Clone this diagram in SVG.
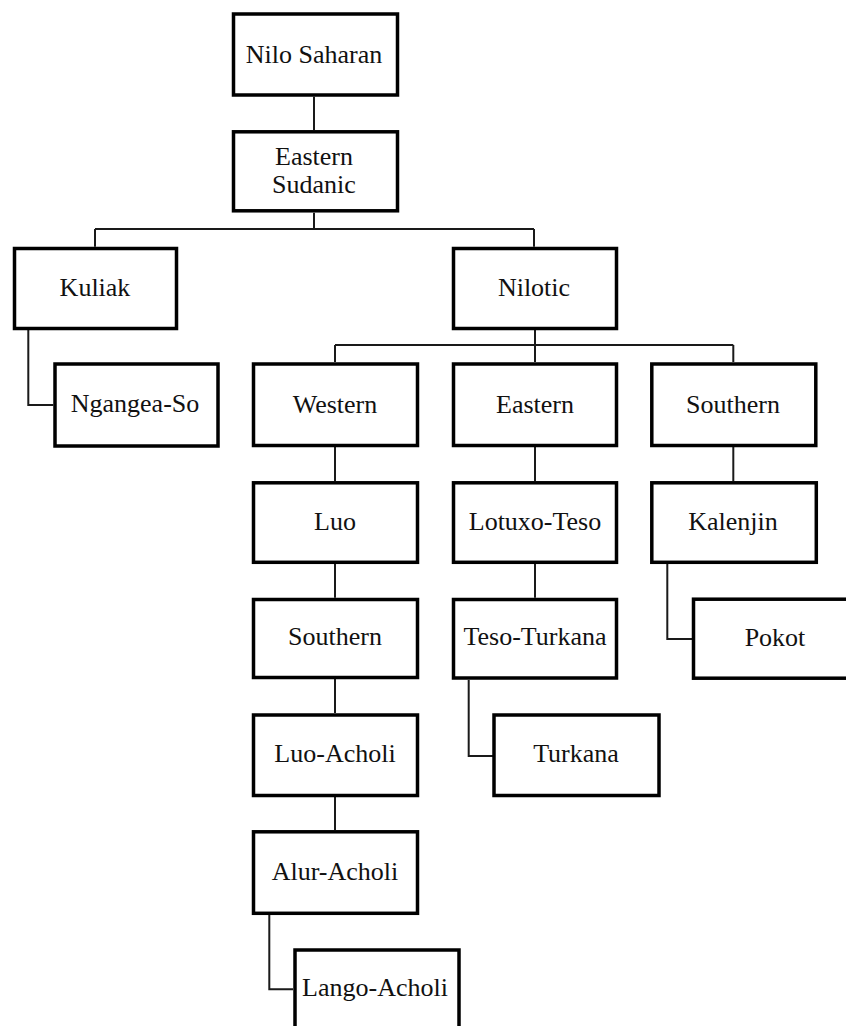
<svg xmlns="http://www.w3.org/2000/svg" width="846" height="1026" viewBox="0 0 846 1026">
<style>
.box{fill:#fff;stroke:#000;stroke-width:3.5}
.lbl{font-family:"Liberation Serif","Times New Roman",serif;font-size:26px;fill:#111;text-anchor:middle}
.conn{fill:none;stroke:#1a1a1a;stroke-width:2}
</style>
<rect width="846" height="1026" fill="#fff"/>
<g id="connectors">
<path class="conn" d="M314,96.7V130"/>
<path class="conn" d="M314,212.7V229M95,229H534M95,229V246.7M534,229V246.7"/>
<path class="conn" d="M28.3,330V405H53.3"/>
<path class="conn" d="M535,330V345M335,345H733.3M335,345V362M535,345V362M733.3,345V362"/>
<path class="conn" d="M335,447V481M335,564V597.7M335,679V713M335,797V830"/>
<path class="conn" d="M535,447V481M535,564V597.7"/>
<path class="conn" d="M733.3,447V481"/>
<path class="conn" d="M667.3,564V639H692"/>
<path class="conn" d="M468.7,680V756H493"/>
<path class="conn" d="M269.3,915V989.3H293"/>
</g>
<g id="nilo-saharan"><rect class="box" x="233.5" y="14" width="164" height="81"/><text class="lbl" x="314" y="62.5">Nilo Saharan</text></g>
<g id="eastern-sudanic"><rect class="box" x="233.5" y="131.8" width="164" height="79"/><text class="lbl" x="314" y="165">Eastern</text><text class="lbl" x="314" y="192.5">Sudanic</text></g>
<g id="kuliak"><rect class="box" x="14.5" y="248.5" width="162" height="80"/><text class="lbl" x="95" y="295.5">Kuliak</text></g>
<g id="nilotic"><rect class="box" x="453.5" y="248.5" width="163" height="80"/><text class="lbl" x="534" y="295.5">Nilotic</text></g>
<g id="ngangea-so"><rect class="box" x="55" y="364" width="163" height="82"/><text class="lbl" x="135" y="412">Ngangea-So</text></g>
<g id="western"><rect class="box" x="253.5" y="364" width="164" height="81.5"/><text class="lbl" x="335" y="413">Western</text></g>
<g id="eastern"><rect class="box" x="453.5" y="364" width="163" height="81.5"/><text class="lbl" x="535" y="413">Eastern</text></g>
<g id="southern-nilotic"><rect class="box" x="651.8" y="364" width="164" height="81.5"/><text class="lbl" x="733" y="413">Southern</text></g>
<g id="luo"><rect class="box" x="253.5" y="482.8" width="164" height="79.5"/><text class="lbl" x="335" y="530">Luo</text></g>
<g id="lotuxo-teso"><rect class="box" x="453.5" y="482.8" width="163" height="79.5"/><text class="lbl" x="535" y="530">Lotuxo-Teso</text></g>
<g id="kalenjin"><rect class="box" x="651.8" y="482.8" width="164.5" height="79.5"/><text class="lbl" x="733" y="530">Kalenjin</text></g>
<g id="southern-luo"><rect class="box" x="253.5" y="599.5" width="164" height="78"/><text class="lbl" x="335" y="645">Southern</text></g>
<g id="teso-turkana"><rect class="box" x="453.5" y="599.5" width="163" height="78.5"/><text class="lbl" x="535" y="645">Teso-Turkana</text></g>
<g id="pokot"><rect class="box" x="693.5" y="599.2" width="165" height="79"/><text class="lbl" x="775" y="645.5">Pokot</text></g>
<g id="luo-acholi"><rect class="box" x="253.5" y="715" width="164" height="80.5"/><text class="lbl" x="335" y="761.5">Luo-Acholi</text></g>
<g id="turkana"><rect class="box" x="494" y="715" width="165" height="80.5"/><text class="lbl" x="576" y="761.5">Turkana</text></g>
<g id="alur-acholi"><rect class="box" x="253.5" y="831.8" width="164" height="81.5"/><text class="lbl" x="335" y="880">Alur-Acholi</text></g>
<g id="lango-acholi"><rect class="box" x="295" y="950" width="164" height="90"/><text class="lbl" x="375" y="996">Lango-Acholi</text></g>
</svg>
